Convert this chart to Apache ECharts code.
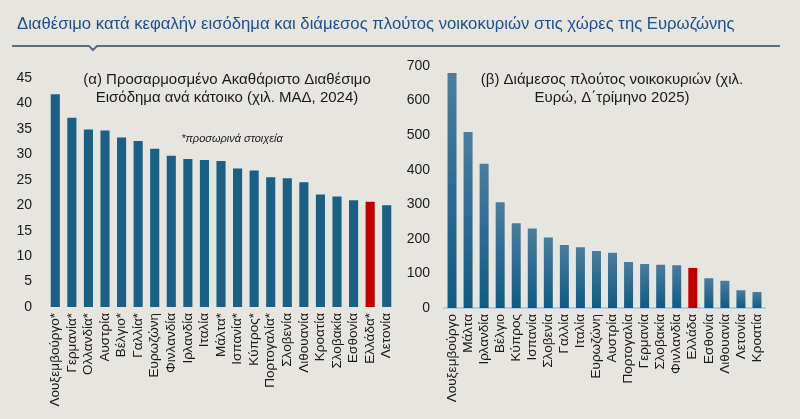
<!DOCTYPE html>
<html lang="el">
<head>
    <meta charset="UTF-8">
    <title>Ευρωζώνη</title>
    <script src="https://cdn.jsdelivr.net/npm/echarts@6/dist/echarts.min.js"></script>
    <style type="text/css">
        html, body { margin: 0; padding: 0; background: #e7e5e0; }
        #box { width: 800px; height: 419px; }
    </style>
</head>
<body>
    <div id="box"></div>
<script>
    // (α) ΑΔΕ ανά κάτοικο, χιλ. ΜΑΔ 2024
    var incomeCountries = ['Λουξεμβούργο*', 'Γερμανία*', 'Ολλανδία*', 'Αυστρία', 'Βέλγιο*', 'Γαλλία*',
        'Ευρωζώνη', 'Φινλανδία', 'Ιρλανδία', 'Ιταλία', 'Μάλτα*', 'Ισπανία*', 'Κύπρος*', 'Πορτογαλία*',
        'Σλοβενία', 'Λιθουανία', 'Κροατία', 'Σλοβακία', 'Εσθονία', 'Ελλάδα*', 'Λετονία'];
    var incomeValues = [41.8, 37.2, 34.9, 34.7, 33.3, 32.6, 31.1, 29.7, 29.1, 28.9, 28.7,
        27.2, 26.8, 25.5, 25.3, 24.5, 22.1, 21.7, 21.0, 20.7, 20.0];

    // (β) διάμεσος πλούτος, χιλ. ευρώ Δ' τρίμ. 2025
    var wealthCountries = ['Λουξεμβούργο', 'Μάλτα', 'Ιρλανδία', 'Βέλγιο', 'Κύπρος', 'Ισπανία', 'Σλοβενία',
        'Γαλλία', 'Ιταλία', 'Ευρωζώνη', 'Αυστρία', 'Πορτογαλία', 'Γερμανία', 'Σλοβακία', 'Φινλανδία',
        'Ελλάδα', 'Εσθονία', 'Λιθουανία', 'Λετονία', 'Κροατία'];
    var wealthValues = [680, 509, 417, 306, 245, 230, 204, 182, 176, 165, 160, 133, 127, 125, 124,
        116, 86, 79, 51, 46];

    var highlight = 'Ελλάδα';
    var blue = '#1b5f85';
    var red = '#c00000';
    var font = 'Liberation Sans, Arial, sans-serif';

    var wealthGradient = new echarts.graphic.LinearGradient(0, 0, 0, 1, [
        { offset: 0, color: '#4d7c9b' },
        { offset: 1, color: '#105a82' }
    ]);

    function barData(names, vals, normal) {
        return vals.map(function (v, i) {
            var isGr = names[i].indexOf(highlight) === 0;
            return { value: v, itemStyle: { color: isGr ? red : normal } };
        });
    }

    var mychart = echarts.init(document.getElementById('box'));
    mychart.setOption({
        backgroundColor: '#e7e5e0',
        textStyle: { fontFamily: font },
        title: [{
            text: 'Διαθέσιμο κατά κεφαλήν εισόδημα και διάμεσος πλούτος νοικοκυριών στις χώρες της Ευρωζώνης',
            left: 12, top: 11,
            textStyle: { color: '#1f4e8c', fontSize: 16.7, fontWeight: 'normal', fontFamily: font }
        }, {
            text: '(α) Προσαρμοσμένο Ακαθάριστο Διαθέσιμο\nΕισόδημα ανά κάτοικο (χιλ. ΜΑΔ, 2024)',
            left: 222, top: 66, textAlign: 'center',
            textStyle: { color: '#1a1a1a', fontSize: 15, fontWeight: 'normal', lineHeight: 18, fontFamily: font }
        }, {
            text: '*προσωρινά στοιχεία',
            left: 227, top: 128, textAlign: 'center',
            textStyle: { color: '#1a1a1a', fontSize: 11, fontStyle: 'italic', fontWeight: 'normal', fontFamily: font }
        }, {
            text: '(β) Διάμεσος πλούτος νοικοκυριών (χιλ.\nΕυρώ, Δ΄τρίμηνο 2025)',
            left: 607, top: 66, textAlign: 'center',
            textStyle: { color: '#1a1a1a', fontSize: 15, fontWeight: 'normal', lineHeight: 18, fontFamily: font }
        }],
        graphic: [{
            type: 'polyline',
            shape: { points: [[12, 46], [89, 46], [93, 50], [97, 46], [780, 46]] },
            style: { stroke: '#5d6d80', lineWidth: 2, fill: null }
        }],
        grid: [
            { left: 47, right: 405, top: 78, bottom: 112 },
            { left: 444, right: 35, top: 66, bottom: 111 }
        ],
        xAxis: [{
            type: 'category', gridIndex: 0, data: incomeCountries,
            axisLine: { show: false }, axisTick: { show: false },
            axisLabel: { rotate: 90, interval: 0, fontSize: 13.5, color: '#1a1a1a', margin: 6, fontFamily: font }
        }, {
            type: 'category', gridIndex: 1, data: wealthCountries,
            axisLine: { show: true, lineStyle: { color: '#a9cfe4', width: 2 } }, axisTick: { show: false },
            axisLabel: { rotate: 90, interval: 0, fontSize: 13.5, color: '#1a1a1a', margin: 6, fontFamily: font }
        }],
        yAxis: [{
            type: 'value', gridIndex: 0, min: 0, max: 45, interval: 5,
            splitLine: { show: false }, axisLine: { show: false }, axisTick: { show: false },
            axisLabel: { fontSize: 14, color: '#1a1a1a', margin: 15, fontFamily: font }
        }, {
            type: 'value', gridIndex: 1, min: 0, max: 700, interval: 100,
            splitLine: { show: false }, axisLine: { show: false }, axisTick: { show: false },
            axisLabel: { fontSize: 14, color: '#1a1a1a', margin: 14, fontFamily: font }
        }],
        series: [{
            type: 'bar', xAxisIndex: 0, yAxisIndex: 0, barWidth: '55%',
            data: barData(incomeCountries, incomeValues, blue)
        }, {
            type: 'bar', xAxisIndex: 1, yAxisIndex: 1, barWidth: '56%',
            data: barData(wealthCountries, wealthValues, wealthGradient)
        }]
    });
</script>
</body>
</html>
